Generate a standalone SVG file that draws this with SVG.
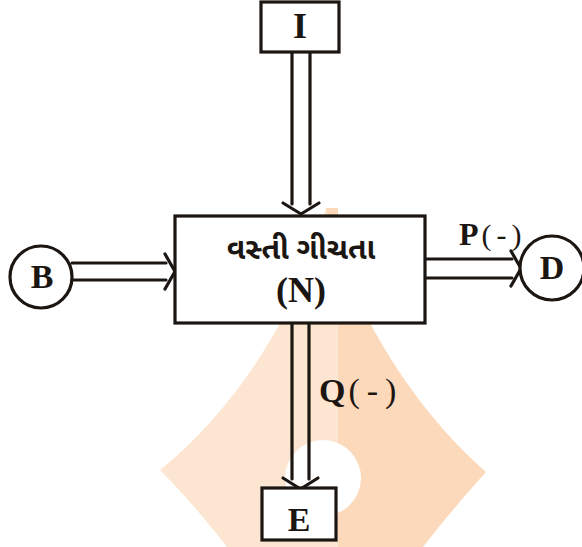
<svg xmlns="http://www.w3.org/2000/svg" width="582" height="547" viewBox="0 0 582 547">
<style>
.ln{fill:none;stroke:#1c1612;stroke-width:3.2;stroke-linecap:round;stroke-linejoin:round}
.box{fill:#ffffff;stroke:#1c1612;stroke-width:3.2}
.t{font-family:"Liberation Serif","DejaVu Serif",serif;font-weight:bold;fill:#1c1612;text-anchor:middle}
.ts{font-family:"Liberation Serif","DejaVu Serif",serif;font-weight:bold;fill:#1c1612;text-anchor:start}
.p{font-weight:normal}
.g{font-family:"Noto Sans Gujarati","Noto Sans","DejaVu Sans",sans-serif;font-weight:bold;fill:#1c1612;text-anchor:middle}
</style>
<rect width="582" height="547" fill="#ffffff"/>
<g id="watermark">
<path d="M326,208 C300,310 235,410 160,470 C185,495 210,525 227,547 L338,547 L338,208 Z" fill="#fde6d1"/>
<path d="M326,208 C350,310 415,410 486,472 C465,495 440,525 423,547 L338,547 L338,208 Z" fill="#fcd9ba"/>
<circle cx="323" cy="478" r="38" fill="#ffffff"/>
</g>
<g id="connectors">
<g id="arrow-I-N">
<path class="ln" d="M292,52 V204 M310,52 V204"/>
<path class="ln" d="M283,203 L301,214 L319,203"/>
</g>
<g id="arrow-B-N">
<path class="ln" d="M72,263 H166 M72,280 H166"/>
<path class="ln" d="M165,254 L175,271.5 L165,289"/>
</g>
<g id="arrow-N-D">
<path class="ln" d="M425,259 H512 M425,278 H512"/>
<path class="ln" d="M511,251 L521,268.5 L511,286"/>
</g>
<g id="arrow-N-E">
<path class="ln" d="M292,323 V479 M309,323 V479"/>
<path class="ln" d="M283,478 L300.5,489 L318,478"/>
</g>
</g>
<g id="node-N">
<rect class="box" x="175" y="216" width="250" height="107"/>
<text class="g" x="301" y="259" font-size="30">વસ્તી ગીચતા</text>
<text class="t" x="301" y="302" font-size="36">(N)</text>
</g>
<g id="node-I">
<rect class="box" x="261" y="2" width="78" height="50"/>
<text class="t" x="300" y="38" font-size="36">I</text>
</g>
<g id="node-B">
<circle class="box" cx="41" cy="277" r="31"/>
<text class="t" x="42" y="288" font-size="34">B</text>
</g>
<g id="node-D">
<circle class="box" cx="552" cy="268" r="32"/>
<text class="t" x="552" y="279" font-size="34">D</text>
</g>
<g id="node-E">
<rect class="box" x="262" y="488" width="74" height="52"/>
<text class="t" x="299" y="531" font-size="34">E</text>
</g>
<g id="labels">
<text class="ts" x="459" y="245" font-size="32">P<tspan class="p" font-size="30" dx="3" letter-spacing="5">(-)</tspan></text>
<text class="ts" x="319" y="402" font-size="34">Q<tspan class="p" font-size="34" dx="3" letter-spacing="7">(-)</tspan></text>
</g>
</svg>
